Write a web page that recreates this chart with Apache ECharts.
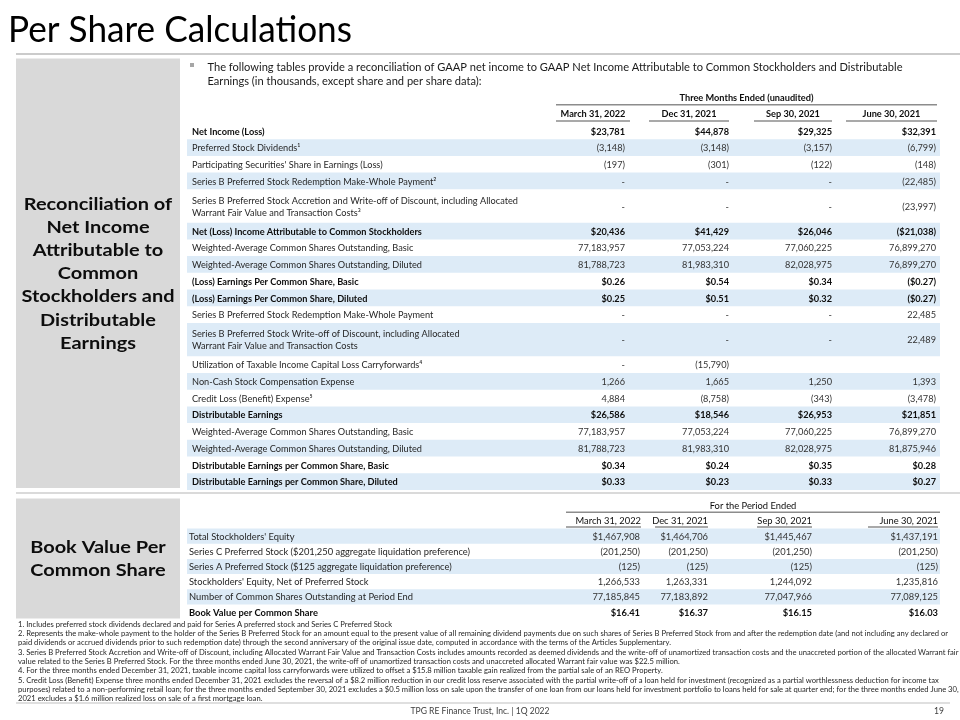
<!DOCTYPE html>
<html><head><meta charset="utf-8">
<script src="https://cdn.jsdelivr.net/npm/echarts/dist/echarts.min.js"></script>
<style>html,body{margin:0;padding:0;background:#fff}#c{width:960px;height:720px}</style>
</head><body><div id="c"></div>
<script>
// ---------------- DATA ----------------
const title = 'Per Share Calculations';
const introLines = [
  'The following tables provide a reconciliation of GAAP net income to GAAP Net Income Attributable to Common Stockholders and Distributable',
  'Earnings (in thousands, except share and per share data):'
];
const recPanel = ['Reconciliation of','Net Income','Attributable to','Common','Stockholders and','Distributable','Earnings'];
const bookPanel = ['Book Value Per','Common Share'];
const recGroup = 'Three Months Ended (unaudited)';
const bookGroup = 'For the Period Ended';
const periods = ['March 31, 2022','Dec 31, 2021','Sep 30, 2021','June 30, 2021'];

const recLabels = [
  'Net Income (Loss)',
  'Preferred Stock Dividends¹',
  "Participating Securities' Share in Earnings (Loss)",
  'Series B Preferred Stock Redemption Make-Whole Payment²',
  'Series B Preferred Stock Accretion and Write-off of Discount, including Allocated\nWarrant Fair Value and Transaction Costs³',
  'Net (Loss) Income Attributable to Common Stockholders',
  'Weighted-Average Common Shares Outstanding, Basic',
  'Weighted-Average Common Shares Outstanding, Diluted',
  '(Loss) Earnings Per Common Share, Basic',
  '(Loss) Earnings Per Common Share, Diluted',
  'Series B Preferred Stock Redemption Make-Whole Payment',
  'Series B Preferred Stock Write-off of Discount, including Allocated\nWarrant Fair Value and Transaction Costs',
  'Utilization of Taxable Income Capital Loss Carryforwards⁴',
  'Non-Cash Stock Compensation Expense',
  'Credit Loss (Benefit) Expense⁵',
  'Distributable Earnings',
  'Weighted-Average Common Shares Outstanding, Basic',
  'Weighted-Average Common Shares Outstanding, Diluted',
  'Distributable Earnings per Common Share, Basic',
  'Distributable Earnings per Common Share, Diluted'
];
// '$' = dollar amount, 'n' = plain number, 'eps' = per-share dollars
const recFormats = ['$','n','n','n','n','$','n','n','eps','eps','n','n','n','n','n','$','n','n','eps','eps'];
const recMar22 = [23781,-3148,-197,0,0,20436,77183957,81788723,0.26,0.25,0,0,0,1266,4884,26586,77183957,81788723,0.34,0.33];
const recDec21 = [44878,-3148,-301,0,0,41429,77053224,81983310,0.54,0.51,0,0,-15790,1665,-8758,18546,77053224,81983310,0.24,0.23];
const recSep21 = [29325,-3157,-122,0,0,26046,77060225,82028975,0.34,0.32,0,0,null,1250,-343,26953,77060225,82028975,0.35,0.33];
const recJun21 = [32391,-6799,-148,-22485,-23997,-21038,76899270,76899270,-0.27,-0.27,22485,22489,null,1393,-3478,21851,76899270,81875946,0.28,0.27];

const bookLabels = [
  "Total Stockholders' Equity",
  'Series C Preferred Stock ($201,250 aggregate liquidation preference)',
  'Series A Preferred Stock ($125 aggregate liquidation preference)',
  "Stockholders' Equity, Net of Preferred Stock",
  'Number of Common Shares Outstanding at Period End',
  'Book Value per Common Share'
];
const bookFormats = ['$','n','n','n','n','eps'];
const bookMar22 = [1467908,-201250,-125,1266533,77185845,16.41];
const bookDec21 = [1464706,-201250,-125,1263331,77183892,16.37];
const bookSep21 = [1445467,-201250,-125,1244092,77047966,16.15];
const bookJun21 = [1437191,-201250,-125,1235816,77089125,16.03];

const footnotes = [
  '1. Includes preferred stock dividends declared and paid for Series A preferred stock and Series C Preferred Stock',
  '2. Represents the make-whole payment to the holder of the Series B Preferred Stock for an amount equal to the present value of all remaining dividend payments due on such shares of Series B Preferred Stock from and after the redemption date (and not including any declared or',
  'paid dividends or accrued dividends prior to such redemption date) through the second anniversary of the original issue date, computed in accordance with the terms of the Articles Supplementary.',
  '3. Series B Preferred Stock Accretion and Write-off of Discount, including Allocated Warrant Fair Value and Transaction Costs includes amounts recorded as deemed dividends and the write-off of unamortized transaction costs and the unaccreted portion of the allocated Warrant fair',
  'value related to the Series B Preferred Stock. For the three months ended June 30, 2021, the write-off of unamortized transaction costs and unaccreted allocated Warrant fair value was $22.5 million.',
  '4. For the three months ended December 31, 2021, taxable income capital loss carryforwards were utilized to offset a $15.8 million taxable gain realized from the partial sale of an REO Property.',
  '5. Credit Loss (Benefit) Expense three months ended December 31, 2021 excludes the reversal of a $8.2 million reduction in our credit loss reserve associated with the partial write-off of a loan held for investment (recognized as a partial worthlessness deduction for income tax',
  'purposes) related to a non-performing retail loan; for the three months ended September 30, 2021 excludes a $0.5 million loss on sale upon the transfer of one loan from our loans held for investment portfolio to loans held for sale at quarter end; for the three months ended June 30,',
  '2021 excludes a $1.6 million realized loss on sale of a first mortgage loan.'
];
const footerText = 'TPG RE Finance Trust, Inc. | 1Q 2022';
const pageNo = '19';

// ---------------- STYLE / LAYOUT ----------------
const FONT = 'Lato, "Open Sans", sans-serif';
const STRIPE = '#ddebf7';
const PANEL = '#d9d9d9';
const RULE = '#cbcbcb';
const REC = {top:122.5, unit:16.7, labelX:192, fs:10, stripe:[187,940], valRight:[625,729,832,936],
  hdr:[[556,630],[649,729],[754,832],[846,937]], hdrAlign:'center', group:[556,937],
  bold:[0,5,8,9,15,18,19], stripeOdd:true, hdrBold:true};
const BOOK = {top:528.5, unit:15.2, labelX:189, fs:9.5, stripe:[187,940], valRight:[640,708,812,938],
  hdr:[[566,641],[655,708],[757,812],[868,938]], hdrAlign:'right', group:[566,940],
  bold:[5], stripeOdd:false, hdrBold:false};

const ctx = document.createElement('canvas').getContext('2d');
function measure(t, size, weight){ ctx.font = (weight||'normal')+' '+size+'px '+FONT; return ctx.measureText(t).width; }

function fmt(v, kind){
  if (v === null || v === undefined) return '';
  if (v === 0) return '-';
  const a = Math.abs(v);
  let s;
  if (kind === 'eps') s = '$' + a.toFixed(2);
  else { s = a.toLocaleString('en-US'); if (kind === '$') s = '$' + s; }
  return v < 0 ? '(' + s + ')' : s;
}

function textEl(x, y, text, o){
  o = o || {};
  return {type:'text', x:x, y:y, scaleX:o.sx||1, silent:true, z:o.z||10,
    style:{text:text, x:0, y:0, align:o.align||'left', verticalAlign:o.va||'middle',
      fontSize:o.fs||10, fontFamily:FONT, fontWeight:o.bold?'bold':'normal',
      fill:o.color||'#262626', lineHeight:o.lh||undefined}};
}

function tableSeries(gi, cfg, labels, cols, formats, group){
  const spans = labels.map(l => l.split('\n').length);
  const starts = []; let acc = 0; spans.forEach(s => { starts.push(acc); acc += s; });
  const body = {
    type:'custom', xAxisIndex:gi, yAxisIndex:gi, silent:true,
    data: labels.map((l,i)=>[i, starts[i], spans[i]]),
    renderItem:function(params, api){
      const i = api.value(0), s = api.value(1), n = api.value(2);
      const yTop = api.coord([0,s])[1], yBot = api.coord([0,s+n])[1], yMid = (yTop+yBot)/2;
      const xL = api.coord([cfg.stripe[0],0])[0], xR = api.coord([cfg.stripe[1],0])[0];
      const bold = cfg.bold.indexOf(i) >= 0;
      const striped = cfg.stripeOdd ? (i%2===1) : (i%2===0);
      const ch = [];
      if (striped) ch.push({type:'rect', shape:{x:xL, y:yTop, width:xR-xL, height:yBot-yTop}, style:{fill:STRIPE}, z:1});
      ch.push(textEl(api.coord([cfg.labelX,0])[0], yMid+0.5, labels[i], {fs:cfg.fs, sx:cfg.sx, bold:bold, color: bold?'#0d0d0d':'#262626', lh:12}));
      cols.forEach((col,c)=>{
        const t = fmt(col[i], formats[i]);
        if (t) ch.push(textEl(api.coord([cfg.valRight[c],0])[0], yMid+0.5, t, {fs:cfg.fs, sx:cfg.sx, bold:bold, align:'right', color: bold?'#0d0d0d':'#333333'}));
      });
      return {type:'group', children:ch};
    }
  };
  const head = {
    type:'custom', xAxisIndex:gi, yAxisIndex:gi, silent:true,
    data: periods.map((p,c)=>[c]),
    renderItem:function(params, api){
      const c = api.value(0);
      const sp = cfg.hdr[c];
      const x0 = api.coord([sp[0],0])[0], x1 = api.coord([sp[1],0])[0];
      const yMid = api.coord([0,-0.5])[1], yLine = api.coord([0,0])[1]-1.5;
      const tx = cfg.hdrAlign === 'center' ? (x0+x1)/2 : x1;
      return {type:'group', children:[
        textEl(tx, yMid, periods[c], {fs:cfg.fs, sx:cfg.sx, bold:cfg.hdrBold, align:cfg.hdrAlign, color:'#0d0d0d'}),
        {type:'line', shape:{x1:x0, y1:yLine, x2:x1, y2:yLine}, style:{stroke:'#8c8c8c', lineWidth:1.5}}
      ]};
    }
  };
  const grp = {
    type:'custom', xAxisIndex:gi, yAxisIndex:gi, silent:true,
    data:[[0]],
    renderItem:function(params, api){
      const x0 = api.coord([cfg.group[0],0])[0], x1 = api.coord([cfg.group[1],0])[0];
      const yMid = api.coord([0,-1.5])[1], yLine = api.coord([0,-1])[1]-1;
      return {type:'group', children:[
        textEl((x0+x1)/2, yMid, group, {fs:cfg.fs, sx:cfg.sx, bold:cfg.hdrBold, align:'center', color:'#0d0d0d'}),
        {type:'line', shape:{x1:x0, y1:yLine, x2:x1, y2:yLine}, style:{stroke:'#8c8c8c', lineWidth:1.5}}
      ]};
    }
  };
  return {series:[body, head, grp], units:acc};
}

function build(){
  measure('warm up', 10); measure('warm up', 10, 'bold');
  REC.sx = 230 / measure('Weighted-Average Common Shares Outstanding, Diluted', REC.fs);
  BOOK.sx = 281 / measure('Series C Preferred Stock ($201,250 aggregate liquidation preference)', BOOK.fs);

  const recT = tableSeries(0, REC, recLabels, [recMar22,recDec21,recSep21,recJun21], recFormats, recGroup);
  const bookT = tableSeries(1, BOOK, bookLabels, [bookMar22,bookDec21,bookSep21,bookJun21], bookFormats, bookGroup);

  const titleFs = 37, titleSx = 344 / measure(title, titleFs);
  const introFs = 11, introSx = 695 / measure(introLines[0], introFs);
  const panelFs = 17.5, panelSx = 153 / measure('Stockholders and', panelFs, 'bold');
  const fnFs = 7.3, fnSx = 930 / measure(footnotes[1], fnFs);

  const graphics = [];
  graphics.push(textEl(8, 30, title, {fs:titleFs, sx:titleSx, color:'#000'}));
  graphics.push({type:'rect', shape:{x:16, y:53, width:944, height:2}, style:{fill:RULE}});
  graphics.push({type:'rect', shape:{x:16, y:58.5, width:164, height:429.5}, style:{fill:PANEL}});
  graphics.push({type:'rect', shape:{x:16, y:492, width:944, height:2}, style:{fill:'#dadada'}});
  graphics.push({type:'rect', shape:{x:16, y:498.5, width:164, height:120}, style:{fill:PANEL}});
  const pLh = 23.2;
  recPanel.forEach((t,k)=>{
    graphics.push(textEl(98, 273.5 + (k-(recPanel.length-1)/2)*pLh, t, {fs:panelFs, sx:panelSx, bold:true, align:'center', color:'#0d0d0d'}));
  });
  bookPanel.forEach((t,k)=>{
    graphics.push(textEl(98, 559 + (k-(bookPanel.length-1)/2)*pLh, t, {fs:panelFs, sx:panelSx, bold:true, align:'center', color:'#0d0d0d'}));
  });
  graphics.push({type:'rect', shape:{x:190, y:63, width:4, height:4}, style:{fill:'#a6a6a6'}});
  introLines.forEach((t,k)=>{
    graphics.push(textEl(207.5, 67 + k*14.2, t, {fs:introFs, sx:introSx, color:'#1a1a1a'}));
  });
  footnotes.forEach((t,k)=>{
    graphics.push(textEl(18, 624.5 + k*9.3, t, {fs:fnFs, sx:fnSx, color:'#262626'}));
  });
  graphics.push({type:'rect', shape:{x:16, y:702.5, width:934, height:1}, style:{fill:'#bfbfbf'}});
  graphics.push(textEl(480, 711.5, footerText, {fs:9, sx:titleSx, align:'center', color:'#404040'}));
  graphics.push(textEl(944, 711.5, pageNo, {fs:9, sx:titleSx, align:'right', color:'#404040'}));

  const option = {
    animation:false,
    backgroundColor:'#ffffff',
    grid:[
      {left:0, top:REC.top-2*REC.unit, width:960, height:(recT.units+2)*REC.unit},
      {left:0, top:BOOK.top-2*BOOK.unit, width:960, height:(bookT.units+2)*BOOK.unit}
    ],
    xAxis:[
      {gridIndex:0, type:'value', min:0, max:960, show:false},
      {gridIndex:1, type:'value', min:0, max:960, show:false}
    ],
    yAxis:[
      {gridIndex:0, type:'value', min:-2, max:recT.units, inverse:true, show:false},
      {gridIndex:1, type:'value', min:-2, max:bookT.units, inverse:true, show:false}
    ],
    graphic:{elements:graphics},
    series:[].concat(recT.series, bookT.series)
  };
  const chart = echarts.init(document.getElementById('c'), null, {renderer:'canvas'});
  chart.setOption(option);
}

let built = false;
function go(){ if (!built) { built = true; build(); } }
if (document.fonts && document.fonts.load) {
  Promise.all([document.fonts.load('10px Lato'), document.fonts.load('bold 10px Lato')]).then(go, go);
  setTimeout(go, 400);
} else { go(); }
</script>
</body></html>
